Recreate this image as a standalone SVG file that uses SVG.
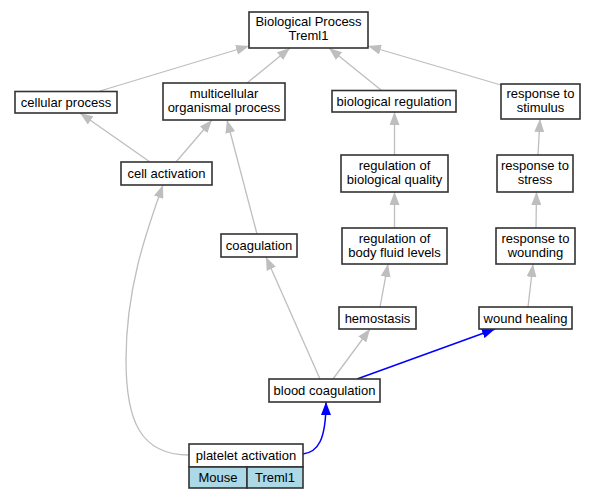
<svg xmlns="http://www.w3.org/2000/svg" width="595" height="499" viewBox="0 0 595 499">
<style>
.n{fill:#fff;stroke:#333;stroke-width:1.6}
.t{font-family:"Liberation Sans",Arial,sans-serif;font-size:13px;fill:#000;text-anchor:middle}
.g{fill:none;stroke:#bebebe;stroke-width:1.3}
.b{fill:none;stroke:#0000ff;stroke-width:1.5}
.cell{fill:#add8e6;stroke:#333;stroke-width:1.6}
</style>
<defs>
<marker id="ag" markerUnits="userSpaceOnUse" markerWidth="13" markerHeight="10" refX="13" refY="5" orient="auto"><path d="M0,0 L13,5 L0,10 z" fill="#bebebe"/></marker>
<marker id="ab" markerUnits="userSpaceOnUse" markerWidth="13" markerHeight="10" refX="13" refY="5" orient="auto"><path d="M0,0 L13,5 L0,10 z" fill="#0000ff"/></marker>
</defs>
<rect width="595" height="499" fill="#fff"/>
<g id="edges">
<path class="g" marker-end="url(#ag)" d="M100,91 L249,46"/>
<path class="g" marker-end="url(#ag)" d="M247,83 L290,48"/>
<path class="g" marker-end="url(#ag)" d="M381,90 L329,48"/>
<path class="g" marker-end="url(#ag)" d="M501,85 L368,46"/>
<path class="g" marker-end="url(#ag)" d="M150,162 L80,113"/>
<path class="g" marker-end="url(#ag)" d="M176,162 L212,120"/>
<path class="g" marker-end="url(#ag)" d="M257,234 L227,120"/>
<path class="g" marker-end="url(#ag)" d="M394.5,155 L394.5,112"/>
<path class="g" marker-end="url(#ag)" d="M538,155 L540,119"/>
<path class="g" marker-end="url(#ag)" d="M394.5,228 L394.5,192"/>
<path class="g" marker-end="url(#ag)" d="M536,228 L536.5,192"/>
<path class="g" marker-end="url(#ag)" d="M380,307 L388,264"/>
<path class="g" marker-end="url(#ag)" d="M528,307 L533,264"/>
<path class="g" marker-end="url(#ag)" d="M320,379 L266,257"/>
<path class="g" marker-end="url(#ag)" d="M333,379 L370,329"/>
<path class="b" marker-end="url(#ab)" d="M357,379 L495,329"/>
<path class="b" marker-end="url(#ab)" d="M303,454 C318,452 326,440 326,402"/>
<path class="g" marker-end="url(#ag)" d="M189,455 C140,455 126,420 126,360 C126,290 145,235 163,185"/>
</g>
<g id="root"><rect class="n" x="249" y="12" width="119" height="36"/><text class="t" x="308.5" y="26">Biological Process</text><text class="t" x="308.5" y="40">Treml1</text></g>
<g id="cellular_process"><rect class="n" x="15" y="91.5" width="102" height="21.5"/><text class="t" x="66" y="106.5">cellular process</text></g>
<g id="multicellular_organismal_process"><rect class="n" x="163" y="83" width="122" height="37"/><text class="t" x="224" y="98">multicellular</text><text class="t" x="224" y="112">organismal process</text></g>
<g id="biological_regulation"><rect class="n" x="332" y="90.5" width="124" height="21.5"/><text class="t" x="394" y="105.5">biological regulation</text></g>
<g id="response_to_stimulus"><rect class="n" x="501" y="84" width="79" height="35"/><text class="t" x="540.5" y="98">response to</text><text class="t" x="540.5" y="112">stimulus</text></g>
<g id="cell_activation"><rect class="n" x="121" y="162" width="91" height="23"/><text class="t" x="166.5" y="178">cell activation</text></g>
<g id="regulation_of_biological_quality"><rect class="n" x="341" y="155" width="107" height="37"/><text class="t" x="394.5" y="170">regulation of</text><text class="t" x="394.5" y="184">biological quality</text></g>
<g id="response_to_stress"><rect class="n" x="497" y="155" width="76" height="37"/><text class="t" x="535" y="170">response to</text><text class="t" x="535" y="184">stress</text></g>
<g id="coagulation"><rect class="n" x="221" y="234" width="76" height="23"/><text class="t" x="259" y="250">coagulation</text></g>
<g id="regulation_of_body_fluid_levels"><rect class="n" x="342" y="228" width="105" height="36"/><text class="t" x="394.5" y="242.5">regulation of</text><text class="t" x="394.5" y="256.5">body fluid levels</text></g>
<g id="response_to_wounding"><rect class="n" x="496" y="228" width="79" height="36"/><text class="t" x="535.5" y="242.5">response to</text><text class="t" x="535.5" y="256.5">wounding</text></g>
<g id="hemostasis"><rect class="n" x="339" y="307" width="77" height="22"/><text class="t" x="377.5" y="322.5">hemostasis</text></g>
<g id="wound_healing"><rect class="n" x="479" y="307" width="93" height="22"/><text class="t" x="525.5" y="322.5">wound healing</text></g>
<g id="blood_coagulation"><rect class="n" x="269" y="379" width="111" height="23"/><text class="t" x="324.5" y="395">blood coagulation</text></g>
<g id="platelet_activation">
<rect class="n" x="189" y="444" width="114" height="23"/>
<text class="t" x="246" y="460">platelet activation</text>
<rect class="cell" x="189" y="467" width="58" height="21"/>
<rect class="cell" x="247" y="467" width="56" height="21"/>
<text class="t" x="218" y="482">Mouse</text>
<text class="t" x="275" y="482">Treml1</text>
</g>
</svg>
